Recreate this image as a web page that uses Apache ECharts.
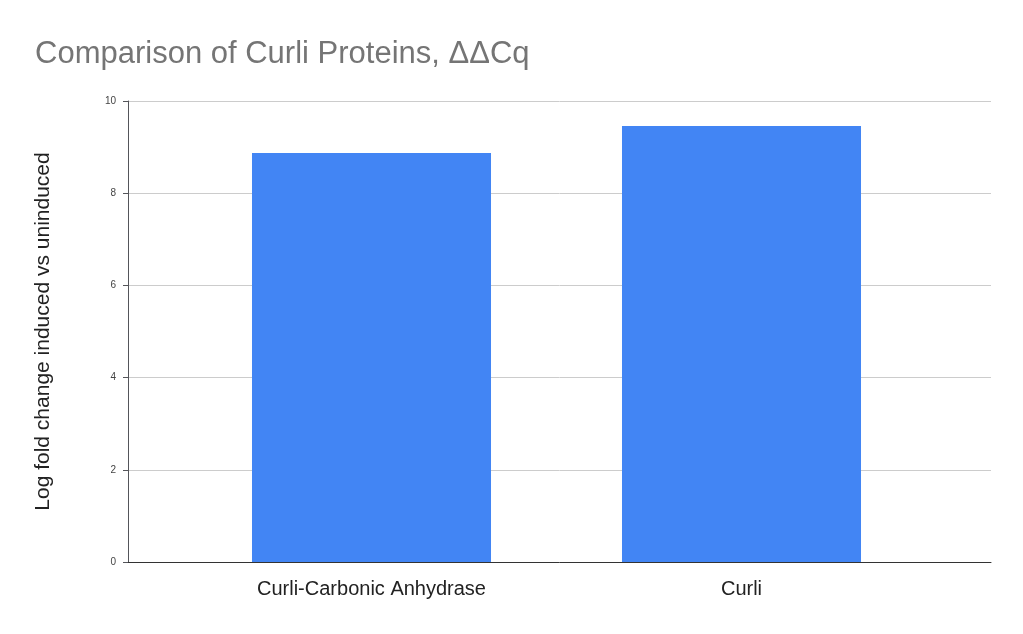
<!DOCTYPE html>
<html><head><meta charset="utf-8">
<script src="https://cdn.jsdelivr.net/npm/echarts@6/dist/echarts.min.js"></script>
<style>html,body{margin:0;padding:0;background:#fff}#c{width:1023px;height:634px}</style>
</head><body><div id="c"></div>
<script>
const categories = ["Curli-Carbonic Anhydrase", "Curli"];
const values = [8.87, 9.46];
const yTicks = [0, 2, 4, 6, 8, 10];
const F = "Liberation Sans";
const chart = echarts.init(document.getElementById('c'));
chart.setOption({
  animation: false,
  title: {text: "Comparison of Curli Proteins, ΔΔCq", left: 30, top: 34,
    textStyle: {fontFamily: F, fontSize: 31, fontWeight: "normal", color: "#757575"}},
  grid: [
    {left: 128, right: 32, top: 101, bottom: 72},
    {left: 186.5, right: 96.5, top: 101, bottom: 72}
  ],
  xAxis: [
    {gridIndex: 0, type: "value", min: 0, max: 1, axisLabel: {show: false}, axisTick: {show: false},
      splitLine: {show: false}, axisLine: {show: true, lineStyle: {color: "#333"}}},
    {gridIndex: 1, type: "category", data: categories, axisTick: {show: false}, axisLine: {show: false},
      axisLabel: {fontFamily: F, fontSize: 20, color: "#222", margin: 17}}
  ],
  yAxis: [
    {gridIndex: 0, type: "value", min: 0, max: 10, interval: 2,
      name: "Log fold change induced vs uninduced", nameLocation: "middle", nameGap: 74,
      nameTextStyle: {fontFamily: F, fontSize: 21, color: "#222"},
      axisLabel: {fontFamily: F, fontSize: 10, color: "#444", margin: 12,
        formatter: v => yTicks.includes(v) ? String(v) : ""},
      splitLine: {lineStyle: {color: "#ccc"}}},
    {gridIndex: 1, type: "value", min: 0, max: 10, show: false, splitLine: {show: false}}
  ],
  series: [{type: "bar", xAxisIndex: 1, yAxisIndex: 1, data: values, barWidth: "64.6%",
    itemStyle: {color: "#4285f4"}}]
});
</script></body></html>
